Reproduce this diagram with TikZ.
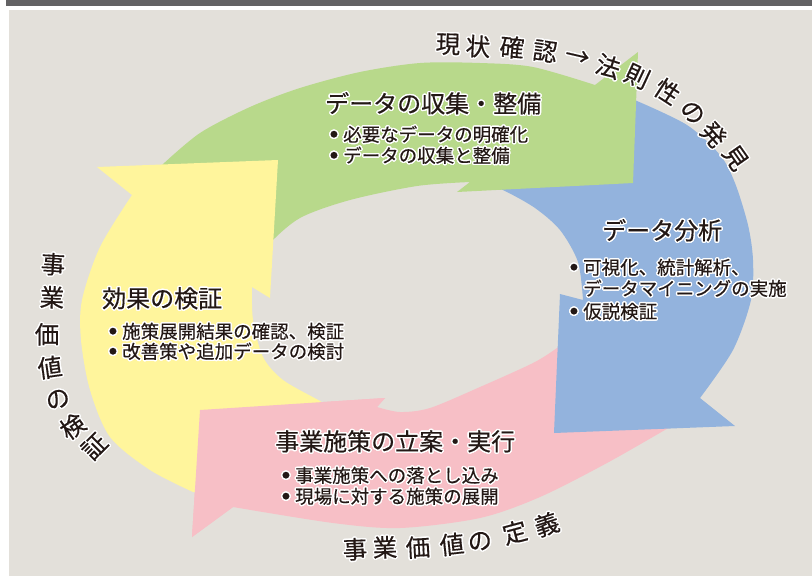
\documentclass[tikz,border=0pt]{standalone}
\usepackage{fontspec}
\setmainfont[FakeBold=0.35]{Noto Sans CJK JP}
\usepackage[copies]{contour}
\contourlength{1.4pt}
\contournumber{16}
\newcommand{\hl}[1]{\contour{white}{#1}}
\newcommand{\bu}{\raisebox{4.3pt}{\fontsize{7.5}{8}\selectfont ●}\hspace{5.5pt}}
\definecolor{bgc}{HTML}{E3E0DA}
\definecolor{barc}{HTML}{636264}
\definecolor{greenc}{HTML}{B8D98B}
\definecolor{bluec}{HTML}{93B3DD}
\definecolor{yellowc}{HTML}{FFF59C}
\definecolor{pinkc}{HTML}{F7BFC6}
\definecolor{txt}{HTML}{231815}
\tikzset{
  ttl/.style={font=\fontsize{24}{28}\selectfont, text=txt, inner sep=0pt, anchor=west},
  bul/.style={font=\fontsize{18.5}{22}\selectfont, text=txt, inner sep=0pt, anchor=west},
  arcch/.style={font=\fontsize{24.5}{26}\selectfont, text=txt, inner sep=0pt}
}
\begin{document}
\begin{tikzpicture}[x=1pt,y=-1pt]
\useasboundingbox (0,0) rectangle (812,576);
\fill[white] (0,0) rectangle (812,576);
\fill[barc] (6,0) rectangle (812,6);
\fill[bgc] (9,10) rectangle (812,576);

% pink arrow
\fill[pinkc] (690,418) -- plot[smooth] coordinates {(670,427) (607,463) (540,497) (480,518) (400,528) (333,523) (233,507)}
  -- (192,537) -- (200,410) -- (385,398)
  -- plot[smooth] coordinates {(377,407) (400,412) (430,408) (480,387) (533,363) (557,348) (572,336)} -- cycle;
% blue arrow
\fill[bluec] (612,92) -- plot[smooth] coordinates {(637,101) (687,125) (720,155) (735,183) (748,225) (753,260) (751,300) (733,350) (700,398)}
  -- (735,426) -- (554,433) -- (560,294)
  -- plot[smooth] coordinates {(583,300) (578,262) (560,230) (535,208) (505,191) (488,185)} -- cycle;
% green arrow
\fill[greenc] (150,180) -- plot[smooth] coordinates {(162,165) (200,133) (250,107) (300,88) (360,72) (420,63) (480,63) (533,67) (595,85)}
  -- (638,52) -- (633,183) -- (457,192)
  -- plot[smooth] coordinates {(470,182) (417,186) (350,200) (300,218) (268,245) (255,265)} -- cycle;
% yellow arrow
\fill[yellowc] (97,167) -- (278,160) -- (270,298)
  -- plot[smooth] coordinates {(252,287) (253,320) (263,357) (283,380) (320,401) (330,408)}
  -- (215,495)
  -- plot[smooth] coordinates {(193,492) (150,470) (110,437) (90,390) (81,340) (82,300) (100,247) (132,195)} -- cycle;
% pink head on top of yellow tail
\fill[pinkc] (233,507) -- (192,537) -- (200,410) -- (385,398) -- (377,407) -- cycle;

% green texts
\node[ttl] (gt) at (325,104) {\hl{データの収集・整備}};
\node[bul] (gb1) at (330,135) {\hl{\bu 必要なデータの明確化}};
\node[bul] (gb2) at (330,156) {\hl{\bu データの収集と整備}};
% blue texts
\node[ttl] (bt) at (602,231) {\hl{データ分析}};
\node[bul] (bb1) at (570,268) {\hl{\bu 可視化、統計解析、}};
\node[bul] (bb2) at (583,289) {\hl{データマイニングの実施}};
\node[bul] (bb3) at (570,312) {\hl{\bu 仮説検証}};
% yellow texts
\node[ttl] (yt) at (102,299) {\hl{効果の検証}};
\node[bul] (yb1) at (109,332) {\hl{\bu 施策展開結果の確認、検証}};
\node[bul] (yb2) at (109,352) {\hl{\bu 改善策や追加データの検討}};
% pink texts
\node[ttl] (pt) at (275,442) {\hl{事業施策の立案・実行}};
\node[bul] (pb1) at (282,476) {\hl{\bu 事業施策への落とし込み}};
\node[bul] (pb2) at (282,497) {\hl{\bu 現場に対する施策の展開}};

% top-right arc label
\node[arcch,rotate=-2]  (t1) at (448,45) {\hl{現}};
\node[arcch,rotate=-3]  (t2) at (478,47) {\hl{状}};
\node[arcch,rotate=-5]  (t3) at (512,48) {\hl{確}};
\node[arcch,rotate=-8]  (t4) at (545,52) {\hl{認}};
\node[arcch,rotate=-13] (t5) at (577,58) {\hl{→}};
\node[arcch,rotate=-18] (t6) at (608,67) {\hl{法}};
\node[arcch,rotate=-25] (t7) at (637,77) {\hl{則}};
\node[arcch,rotate=-33] (t8) at (667,92) {\hl{性}};
\node[arcch,rotate=-42] (t9) at (692,113) {\hl{の}};
\node[arcch,rotate=-48] (t10) at (713,135) {\hl{発}};
\node[arcch,rotate=-55] (t11) at (735,158) {\hl{見}};

% left arc label
\node[arcch,rotate=-3] (l1) at (53,265) {\hl{事}};
\node[arcch,rotate=-2] (l2) at (52,298) {\hl{業}};
\node[arcch,rotate=0]  (l3) at (47,335) {\hl{価}};
\node[arcch,rotate=8]  (l4) at (50,368) {\hl{値}};
\node[arcch,rotate=20] (l5) at (58,400) {\hl{の}};
\node[arcch,rotate=35] (l6) at (73,427) {\hl{検}};
\node[arcch,rotate=45] (l7) at (95,447) {\hl{証}};

% bottom arc label
\node[arcch,rotate=2]  (b1) at (355,550) {\hl{事}};
\node[arcch,rotate=2]  (b2) at (385,548) {\hl{業}};
\node[arcch,rotate=3]  (b3) at (418,548) {\hl{価}};
\node[arcch,rotate=6]  (b4) at (452,545) {\hl{値}};
\node[arcch,rotate=10] (b5) at (480,542) {\hl{の}};
\node[arcch,rotate=15] (b6) at (515,533) {\hl{定}};
\node[arcch,rotate=18] (b7) at (547,525) {\hl{義}};
\end{tikzpicture}
\end{document}
